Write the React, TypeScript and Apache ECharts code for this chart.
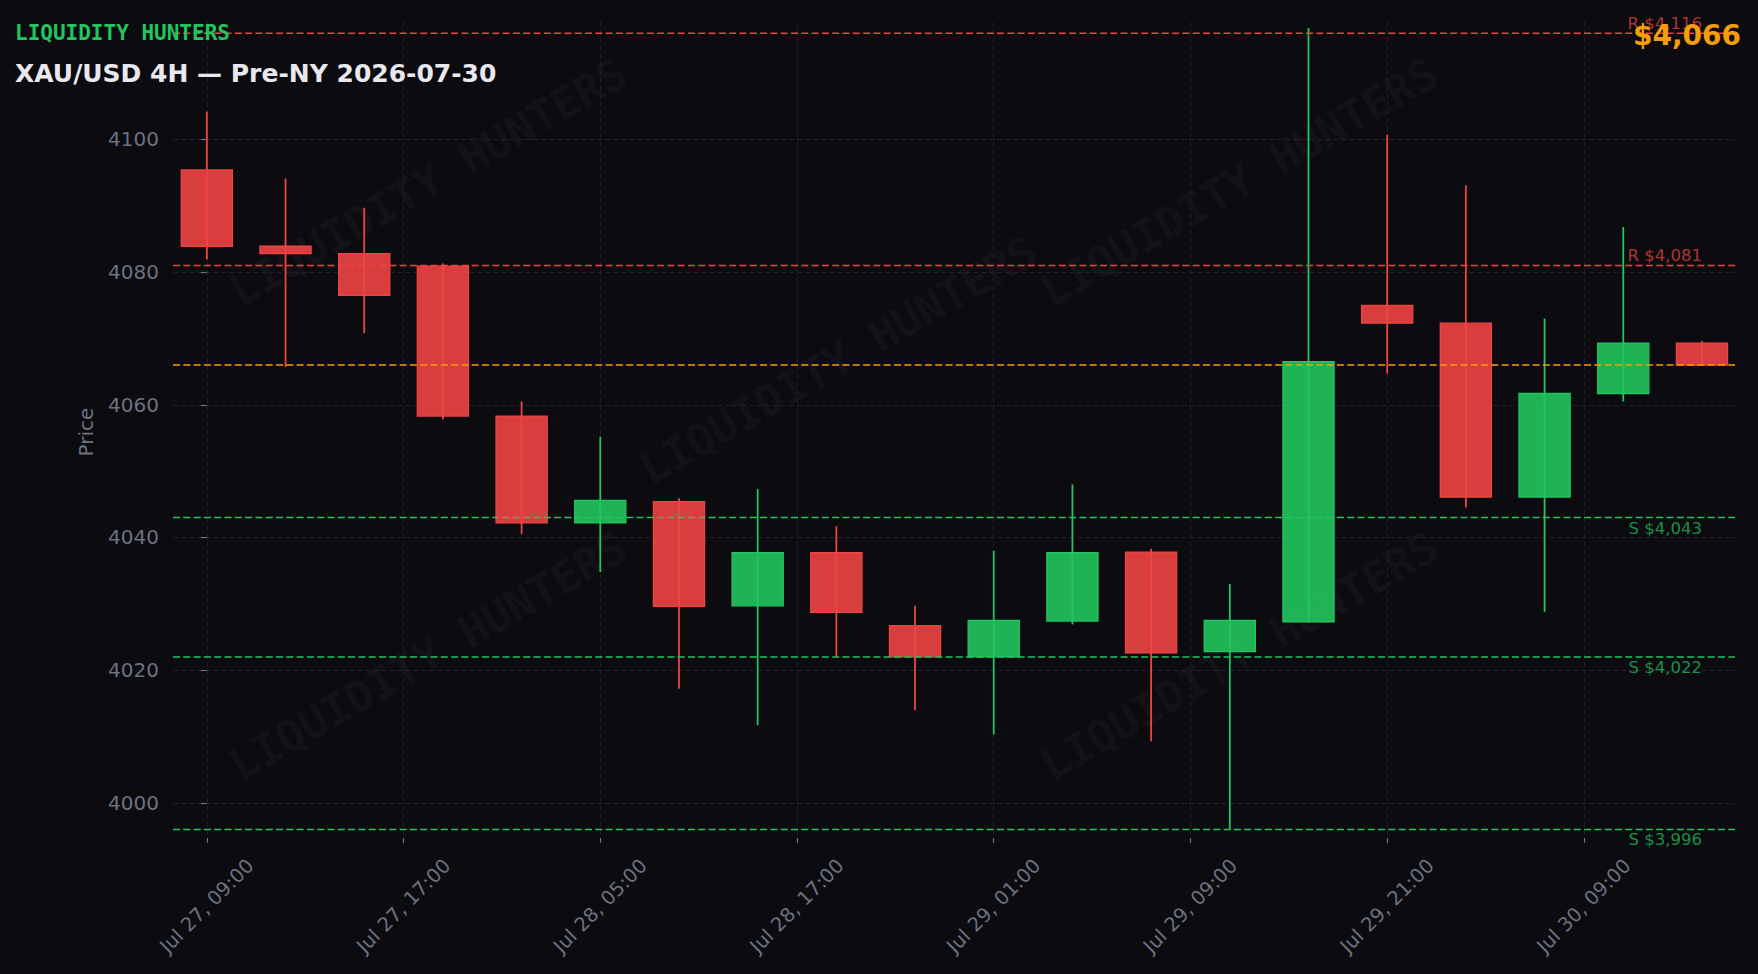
import React, { useEffect, useRef } from "react";
import * as echarts from "echarts";

// ---- data ----
const tickPositions = [0, 2.5, 5, 7.5, 10, 12.5, 15, 17.5];
const tickLabels = [
  "Jul 27, 09:00",
  "Jul 27, 17:00",
  "Jul 28, 05:00",
  "Jul 28, 17:00",
  "Jul 29, 01:00",
  "Jul 29, 09:00",
  "Jul 29, 21:00",
  "Jul 30, 09:00",
];
const opens = [
  4095.4, 4083.9, 4082.8, 4080.9, 4058.3, 4042.2, 4045.4, 4029.7, 4037.7, 4026.7,
  4022.0, 4027.4, 4037.8, 4022.8, 4027.3, 4075.0, 4072.3, 4046.1, 4061.7, 4069.3,
];
const highs = [
  4104.2, 4094.1, 4089.7, 4081.3, 4060.5, 4055.2, 4045.9, 4047.3, 4041.7, 4029.7,
  4038.0, 4048.0, 4038.3, 4033.0, 4116.8, 4100.7, 4093.1, 4073.0, 4086.8, 4069.6,
];
const lows = [
  4081.9, 4065.7, 4070.8, 4057.8, 4040.5, 4034.8, 4017.2, 4011.7, 4022.0, 4014.0,
  4010.3, 4026.9, 4009.3, 3995.9, 4027.2, 4064.7, 4044.5, 4028.8, 4060.5, 4066.0,
];
const closes = [
  4083.9, 4082.8, 4076.5, 4058.3, 4042.2, 4045.6, 4029.6, 4037.7, 4028.7, 4022.0,
  4027.5, 4037.7, 4022.6, 4027.5, 4066.5, 4072.3, 4046.1, 4061.7, 4069.3, 4066.0,
];
const resistanceLevels = [4116, 4081];
const supportLevels = [4043, 4022, 3996];
const currentPrice = 4066;
const yTicks = [4000, 4020, 4040, 4060, 4080, 4100];

const X_MIN = -0.43;
const X_MAX = 19.42;
const Y_MIN = 3994.7;
const Y_MAX = 4117.7;

const BG = "#0b0b10";
const RED = "#ef4444";
const GREEN = "#22c55e";
const ORANGE = "#f59e0b";
const MUTED = "#6b7280";
const GRID = "#20202a";

const fmtPrice = (v: number) => "$" + v.toLocaleString("en-US", { maximumFractionDigits: 0 });

export default function App() {
  const ref = useRef<HTMLDivElement>(null);

  useEffect(() => {
    document.body.style.margin = "0";
    document.body.style.background = BG;
    if (!ref.current) return;
    const chart = echarts.init(ref.current, undefined, { renderer: "svg" });

    const candleData = opens.map((o, i) => [i, o, closes[i], lows[i], highs[i]]);
    const levelData = [
      ...resistanceLevels.map((v) => [v, 0]),
      ...supportLevels.map((v) => [v, 1]),
      [currentPrice, 2],
    ];
    const lastIndex = opens.length - 1;

    const watermarkPos = [
      [428, 182],
      [1239, 182],
      [838, 360],
      [428, 656],
      [1239, 656],
    ];

    const option: any = {
      animation: false,
      backgroundColor: BG,
      grid: { left: 173, right: 23, top: 22, bottom: 136, containLabel: false },
      xAxis: {
        type: "value",
        min: X_MIN,
        max: X_MAX,
        axisLine: { show: false },
        axisTick: {
          show: true,
          customValues: tickPositions,
          length: 5,
          lineStyle: { color: MUTED, width: 1.2 },
        },
        axisLabel: {
          customValues: tickPositions,
          formatter: (v: number) => {
            const k = tickPositions.findIndex((t) => Math.abs(t - v) < 1e-6);
            return k >= 0 ? tickLabels[k] : "";
          },
          rotate: 45,
          align: "center",
          verticalAlign: "middle",
          margin: 68,
          color: MUTED,
          fontSize: 19.5,
          fontFamily: "DejaVu Sans",
        },
        splitLine: { show: true, lineStyle: { color: GRID, type: [5, 3], width: 1 } },
      },
      yAxis: {
        type: "value",
        min: Y_MIN,
        max: Y_MAX,
        axisLine: { show: false },
        axisTick: {
          show: true,
          customValues: yTicks,
          length: 6,
          lineStyle: { color: MUTED, width: 1.2 },
        },
        axisLabel: {
          customValues: yTicks,
          formatter: (v: number) => String(Math.round(v)),
          margin: 14,
          color: MUTED,
          fontSize: 20,
          fontFamily: "DejaVu Sans",
        },
        splitLine: { show: true, lineStyle: { color: GRID, type: [5, 3], width: 1 } },
      },
      graphic: [
        ...watermarkPos.map(([x, y]) => ({
          type: "text",
          x,
          y,
          rotation: Math.PI / 6,
          z: -10,
          silent: true,
          style: {
            text: "LIQUIDITY HUNTERS",
            fill: "rgba(255,255,255,0.05)",
            font: "bold 44px 'DejaVu Sans Mono'",
            align: "center",
            verticalAlign: "middle",
          },
        })),
        {
          type: "text",
          x: 15,
          y: 33,
          z: 50,
          style: {
            text: "LIQUIDITY HUNTERS",
            fill: GREEN,
            font: "bold 21px 'DejaVu Sans Mono'",
            align: "left",
            verticalAlign: "middle",
          },
        },
        {
          type: "text",
          x: 15,
          y: 73,
          z: 50,
          style: {
            text: "XAU/USD 4H — Pre-NY 2026-07-30",
            fill: "#e8e8ee",
            font: "bold 25px 'DejaVu Sans'",
            align: "left",
            verticalAlign: "middle",
          },
        },
        {
          type: "text",
          x: 1741,
          y: 35,
          z: 50,
          style: {
            text: fmtPrice(currentPrice),
            fill: ORANGE,
            font: "bold 28px 'DejaVu Sans'",
            align: "right",
            verticalAlign: "middle",
          },
        },
        {
          type: "text",
          x: 86,
          y: 432,
          rotation: Math.PI / 2,
          z: 50,
          style: {
            text: "Price",
            fill: MUTED,
            font: "20px 'DejaVu Sans'",
            align: "center",
            verticalAlign: "middle",
          },
        },
      ],
      series: [
        {
          type: "custom",
          name: "candles",
          z: 3,
          clip: true,
          data: candleData,
          encode: { x: 0, y: [1, 2, 3, 4] },
          renderItem: (params: any, api: any) => {
            const i = api.value(0);
            const o = api.value(1);
            const c = api.value(2);
            const l = api.value(3);
            const h = api.value(4);
            const up = c >= o;
            const col = up ? GREEN : RED;
            const fill = up ? "rgba(34,197,94,0.9)" : "rgba(239,68,68,0.9)";
            const pO = api.coord([i, o]);
            const pC = api.coord([i, c]);
            const pH = api.coord([i, h]);
            const pL = api.coord([i, l]);
            const w = api.size([0.65, 0])[0];
            const top = Math.min(pO[1], pC[1]);
            const bot = Math.max(pO[1], pC[1]);
            return {
              type: "group",
              children: [
                {
                  type: "line",
                  shape: { x1: pO[0], y1: pH[1], x2: pO[0], y2: pL[1] },
                  style: { stroke: col, lineWidth: 1.8 },
                },
                {
                  type: "rect",
                  shape: { x: pO[0] - w / 2, y: top, width: w, height: Math.max(bot - top, 1) },
                  style: { fill, stroke: col, lineWidth: 1.3 },
                },
              ],
            };
          },
        },
        {
          type: "custom",
          name: "levels",
          z: 5,
          data: levelData,
          encode: { y: 0 },
          renderItem: (params: any, api: any) => {
            const v = api.value(0);
            const kind = api.value(1);
            const cs = params.coordSys;
            const p = api.coord([lastIndex, v]);
            const col = kind === 0 ? RED : kind === 1 ? GREEN : ORANGE;
            const children: any[] = [
              {
                type: "line",
                shape: { x1: cs.x, y1: p[1], x2: cs.x + cs.width, y2: p[1] },
                style: { stroke: col, lineWidth: 1.5, lineDash: [7, 3.3] },
              },
            ];
            if (kind !== 2) {
              children.push({
                type: "text",
                x: p[0],
                y: kind === 0 ? p[1] - 1 : p[1] + 2,
                style: {
                  text: (kind === 0 ? "R " : "S ") + fmtPrice(v),
                  fill: kind === 0 ? "rgba(239,68,68,0.72)" : "rgba(34,197,94,0.72)",
                  font: "16.5px 'DejaVu Sans'",
                  align: "right",
                  verticalAlign: kind === 0 ? "bottom" : "top",
                },
              });
            }
            return { type: "group", children };
          },
        },
      ],
    };

    chart.setOption(option);
    return () => chart.dispose();
  }, []);

  return <div ref={ref} style={{ width: 1758, height: 974 }} />;
}
